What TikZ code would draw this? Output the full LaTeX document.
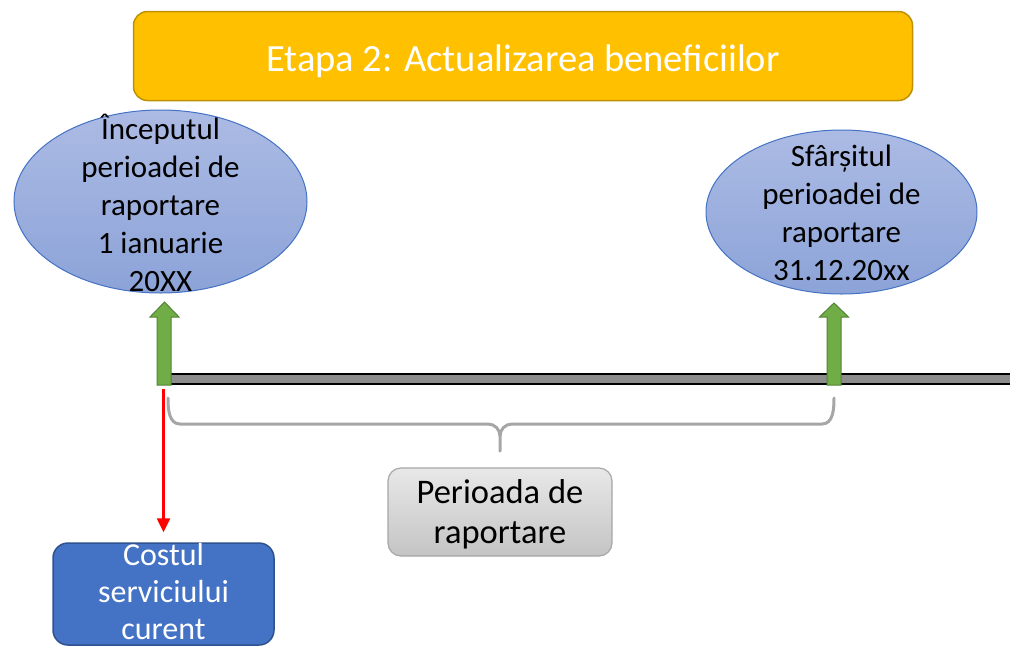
\documentclass[tikz,border=0pt]{standalone}
\usepackage{fontspec}
\setmainfont{Carlito}
\usetikzlibrary{arrows.meta,shapes.geometric}
\definecolor{goldfill}{HTML}{FFC000}
\definecolor{goldline}{HTML}{BF9000}
\definecolor{elltop}{RGB}{172,187,228}
\definecolor{ellbot}{RGB}{140,163,216}
\definecolor{ellline}{HTML}{4472C4}
\definecolor{arrgreen}{HTML}{70AD47}
\definecolor{arrgreenline}{HTML}{548235}
\definecolor{bargray}{HTML}{8C8C8C}
\definecolor{bracegray}{HTML}{A6A6A6}
\definecolor{pertop}{RGB}{232,232,232}
\definecolor{perbot}{RGB}{196,196,196}
\definecolor{costfill}{HTML}{4472C4}
\definecolor{costline}{HTML}{2F528F}
\definecolor{redline}{HTML}{FF0000}
\tikzset{
  ellbox/.style={ellipse, draw=ellline, line width=1pt, top color=elltop, bottom color=ellbot, inner sep=0pt},
  elltext/.style={font=\fontsize{31}{38}\selectfont, align=center, inner sep=0pt, text=black},
  greenarrow/.style={fill=arrgreen, draw=arrgreenline, line width=1pt},
  bracestyle/.style={draw=bracegray, line width=3pt, line cap=round},
  redarrow/.style={draw=redline, line width=2.5pt, -{Triangle[width=13pt,length=14pt]}}
}
\begin{document}
\begin{tikzpicture}[x=1pt,y=-1pt]
\useasboundingbox (0,0) rectangle (1010,646);

% title
\node[draw=goldline, line width=1.5pt, fill=goldfill, rounded corners=14pt,
      minimum width=779pt, minimum height=89pt, inner sep=0pt] (title) at (523,56) {};
\node[text=white, font=\fontsize{38.5}{44}\selectfont, inner sep=0pt] (titleTxt) at (523,61) {Etapa 2: Actualizarea beneficiilor};

% ellipses
\node[ellbox, minimum width=293pt, minimum height=183pt] (begEll) at (160.5,201.5) {};
\node[elltext] (begTxt) at (160.5,203) {Începutul\\perioadei de\\raportare\\1 ianuarie\\20XX};
\node[ellbox, minimum width=271pt, minimum height=164pt] (endEll) at (841.5,212) {};
\node[elltext] (endTxt) at (841.5,213) {Sfârșitul\\perioadei de\\raportare\\31.12.20xx};

% timeline bar
\fill[bargray] (171,374) rectangle (1010,384);
\draw[black, line width=1.5pt] (171,374) -- (1010,374);
\draw[black, line width=1.5pt] (171,384) -- (1010,384);

% green arrows
\draw[greenarrow] (157,385) -- (157,317) -- (150,317) -- (164.5,302) -- (179,317) -- (171,317) -- (171,385) -- cycle;
\draw[greenarrow] (827,385) -- (827,317) -- (819.5,317) -- (834,303) -- (848.5,317) -- (841,317) -- (841,385) -- cycle;

% brace
\draw[bracestyle] (168,398) to[out=-90,in=180] (180,424) -- (488,424) to[out=0,in=90] (500,436) -- (500,451);
\draw[bracestyle] (500,436) to[out=90,in=180] (512,424) -- (822,424) to[out=0,in=-90] (834,398);

% period box
\node[draw=bracegray, line width=1.2pt, top color=pertop, bottom color=perbot, rounded corners=13pt,
      minimum width=224pt, minimum height=88pt, inner sep=0pt] (perBox) at (500,512) {};
\node[font=\fontsize{34.5}{40}\selectfont, align=center, inner sep=0pt] (perTxt) at (500,514) {Perioada de\\raportare};

% cost box
\node[draw=costline, line width=1.5pt, fill=costfill, rounded corners=15pt,
      minimum width=221pt, minimum height=102pt, inner sep=0pt] (cost) at (163.5,594) {};
\node[font=\fontsize{32}{37}\selectfont, align=center, inner sep=0pt, text=white] (costTxt) at (163.5,591) {Costul\\serviciului\\curent};

% red arrow
\coordinate (redStart) at (163.5,389);
\draw[redarrow, shorten >=10pt] (redStart) -- (cost.north);
\end{tikzpicture}
\end{document}
